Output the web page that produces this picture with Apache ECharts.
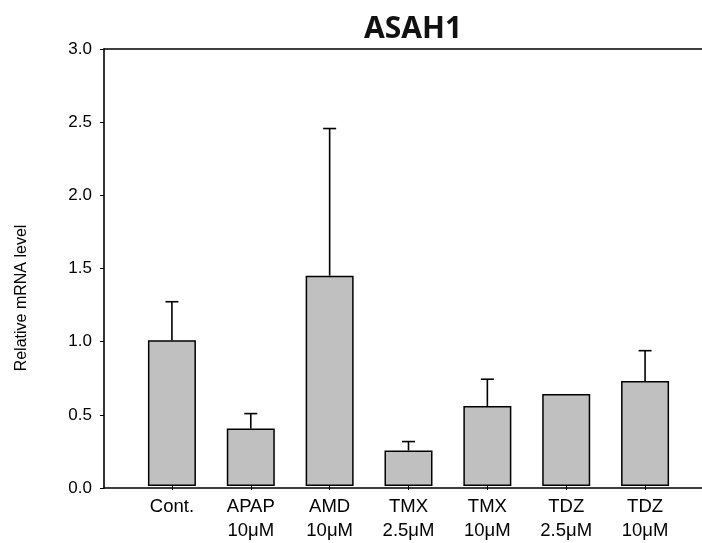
<!DOCTYPE html>
<html>
<head>
<meta charset="utf-8">
<script src="https://cdn.jsdelivr.net/npm/echarts@6/dist/echarts.min.js"></script>
<style>
html,body{margin:0;padding:0;background:#fff;}
#chart{width:702px;height:543px;}
</style>
</head>
<body>
<div id="chart"></div>
<script>
var categories = ['Cont.', 'APAP\n10\u03bcM', 'AMD\n10\u03bcM', 'TMX\n2.5\u03bcM', 'TMX\n10\u03bcM', 'TDZ\n2.5\u03bcM', 'TDZ\n10\u03bcM'];
var means = [1.0, 0.394, 1.444, 0.244, 0.549, 0.631, 0.72];
var errors = [0.265, 0.103, 1.01, 0.061, 0.184, 0, 0.209];
var yTicks = [0, 0.5, 1.0, 1.5, 2.0, 2.5, 3.0];
var titleText = 'ASAH1';
var yTitle = 'Relative mRNA level';

var chart = echarts.init(document.getElementById('chart'));
var black = '#000';
var errData = means.map(function (m, i) { return [i, m, m + errors[i]]; });

var option = {
  animation: false,
  backgroundColor: '#fff',
  title: {
    text: titleText,
    left: 359,
    top: 9,
    textStyle: { fontFamily: 'Noto Sans', fontWeight: 'bold', fontSize: 30, color: '#111' }
  },
  grid: [
    { left: 104, right: 0, top: 49, bottom: 55 },
    { left: 132.5, right: 17.5, top: 49, bottom: 55 }
  ],
  xAxis: [
    { type: 'value', gridIndex: 0, min: 0, max: 1, position: 'bottom',
      axisLine: { show: true, lineStyle: { color: black, width: 1.6 } },
      axisTick: { show: false }, axisLabel: { show: false }, splitLine: { show: false } },
    { type: 'value', gridIndex: 0, min: 0, max: 1, position: 'top',
      axisLine: { show: true, lineStyle: { color: black, width: 1.6 } },
      axisTick: { show: false }, axisLabel: { show: false }, splitLine: { show: false } },
    { type: 'category', gridIndex: 1, data: categories, position: 'bottom',
      axisLine: { show: false },
      axisTick: { show: true, alignWithLabel: true, length: 4, lineStyle: { color: black, width: 1 } },
      axisLabel: { color: black, fontFamily: 'Liberation Sans', fontSize: 18.5, lineHeight: 24, margin: 9 },
      splitLine: { show: false } }
  ],
  yAxis: [
    { type: 'value', gridIndex: 0, min: yTicks[0], max: yTicks[yTicks.length - 1], interval: 0.5,
      axisLine: { show: true, lineStyle: { color: black, width: 1.6 } },
      axisTick: { show: true, length: 4, lineStyle: { color: black, width: 1 } },
      axisLabel: { color: black, fontFamily: 'Liberation Sans', fontSize: 17, margin: 12,
        formatter: function (v) { return v.toFixed(1); } },
      splitLine: { show: false } },
    { type: 'value', gridIndex: 1, min: yTicks[0], max: yTicks[yTicks.length - 1], show: false }
  ],
  graphic: [
    { type: 'text', x: 22, y: 298, rotation: Math.PI / 2,
      style: { text: yTitle, fill: black, font: '16px "Liberation Sans"', align: 'center', verticalAlign: 'middle' } }
  ],
  series: [
    { type: 'bar', xAxisIndex: 2, yAxisIndex: 1, data: means, barWidth: 48,
      itemStyle: { color: '#c0c0c0', borderColor: black, borderWidth: 1.5 } },
    { type: 'custom', xAxisIndex: 2, yAxisIndex: 1, data: errData, z: 3,
      renderItem: function (params, api) {
        var i = api.value(0), lo = api.value(1), hi = api.value(2);
        if (hi <= lo) return { type: 'group', children: [] };
        var p0 = api.coord([i, lo]);
        var p1 = api.coord([i, hi]);
        var hw = 6.5;
        var st = { stroke: black, lineWidth: 1.6 };
        return { type: 'group', children: [
          { type: 'line', shape: { x1: p0[0], y1: p0[1], x2: p1[0], y2: p1[1] }, style: st },
          { type: 'line', shape: { x1: p1[0] - hw, y1: p1[1], x2: p1[0] + hw, y2: p1[1] }, style: st }
        ] };
      } }
  ]
};
chart.setOption(option);
</script>
</body>
</html>
